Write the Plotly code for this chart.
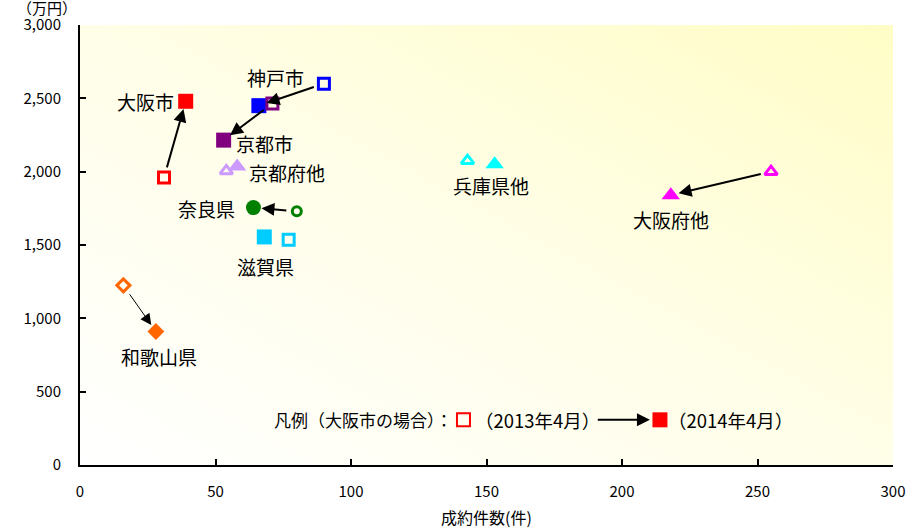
import base64
import plotly.graph_objects as go

# Areas, with contract counts (件) and price levels (万円) for Apr 2013 and Apr 2014
areas = ["大阪市", "神戸市", "京都市", "京都府他", "奈良県", "滋賀県", "和歌山県", "兵庫県他", "大阪府他"]
count_2013 = [31, 90, 71, 54, 80, 77, 16, 143, 255]
price_2013 = [1960, 2600, 2465, 2005, 1730, 1535, 1225, 2075, 2000]
count_2014 = [39, 66, 53, 58, 64, 68, 28, 153, 218]
price_2014 = [2480, 2450, 2215, 2035, 1755, 1555, 910, 2050, 1840]

colors = ["#FF0000", "#0000FF", "#800080", "#CC99FF", "#008000",
          "#00CCFF", "#FF6600", "#00FFFF", "#FF00FF"]
symbols = ["square", "square", "square", "triangle-up", "circle",
           "square", "diamond", "triangle-up", "triangle-up"]
size_new = [15, 15, 15, 16, 15, 15, 13, 16, 16]
size_old = [11, 11, 11, 11, 9, 11, 10, 11, 11]
# area labels: pixel offset from the 2014 marker, anchor
label_pos = {
    "大阪市": (-10, 0, "right"),
    "神戸市": (17, 28, "center"),
    "京都市": (10, -3, "left"),
    "京都府他": (10, -6, "left"),
    "奈良県": (-16, -1, "right"),
    "滋賀県": (1, -30, "center"),
    "和歌山県": (3, -25, "center"),
    "兵庫県他": (-4, -21, "center"),
    "大阪府他": (0, -24, "center"),
}
# arrow line width per area (0 = no arrow drawn)
arrow_width = [2, 2, 2, 0, 2, 0, 1, 0, 2]

JP = "Noto Sans CJK JP"
NUM = "Liberation Sans Narrow, Arial Narrow, " + JP

fig = go.Figure()

for i, name in enumerate(areas):
    fig.add_trace(go.Scatter(
        x=[count_2013[i]], y=[price_2013[i]], mode="markers",
        marker=dict(symbol=symbols[i] + "-open", size=size_old[i], color=colors[i],
                    line=dict(width=3, color=colors[i])),
        showlegend=False, hoverinfo="skip"))
    fig.add_trace(go.Scatter(
        x=[count_2014[i]], y=[price_2014[i]], mode="markers",
        marker=dict(symbol=symbols[i], size=size_new[i], color=colors[i],
                    line=dict(width=0)),
        showlegend=False, hoverinfo="skip"))

annotations = []
for i, name in enumerate(areas):
    if arrow_width[i] > 0:
        annotations.append(dict(
            x=count_2014[i], y=price_2014[i], ax=count_2013[i], ay=price_2013[i],
            xref="x", yref="y", axref="x", ayref="y", text="", showarrow=True,
            arrowhead=2, arrowsize=1.3 if arrow_width[i] > 1 else 2.2,
            arrowwidth=arrow_width[i], arrowcolor="black", standoff=8, startstandoff=9))
    dx, dy, anchor = label_pos[name]
    annotations.append(dict(
        x=count_2014[i], y=price_2014[i], xref="x", yref="y", text=name,
        showarrow=False, xanchor=anchor, yanchor="middle", xshift=dx, yshift=dy,
        font=dict(family=JP, size=19, color="black")))

# legend row (Osaka city example)
leg_y = 308
LEG = dict(family=JP, size=17, color="black")
LEG_DATE = dict(family=JP, size=18.5, color="black")
annotations += [
    dict(x=138.3, y=leg_y, xref="x", yref="y", text="凡例（大阪市の場合）：", showarrow=False,
         xanchor="right", yanchor="middle", font=LEG),
    dict(x=145.0, y=leg_y, xref="x", yref="y", text="（2013年4月）", showarrow=False,
         xanchor="left", yanchor="middle", font=LEG_DATE),
    dict(x=210.3, y=leg_y, ax=190.5, ay=leg_y, xref="x", yref="y", axref="x", ayref="y",
         text="", showarrow=True, arrowhead=2, arrowsize=1.3, arrowwidth=2, arrowcolor="black"),
    dict(x=216.3, y=leg_y, xref="x", yref="y", text="（2014年4月）", showarrow=False,
         xanchor="left", yanchor="middle", font=LEG_DATE),
    dict(x=0, y=1, xref="paper", yref="paper", text="（万円）", showarrow=False,
         xanchor="center", yanchor="middle", xshift=-33, yshift=18,
         font=dict(family=JP, size=15, color="black")),
    dict(x=0.6125, y=1, xref="paper", yref="paper",
         text="エリア別の件数・価格水準の変化（2013年4月→2014年4月）", showarrow=False,
         xanchor="center", yanchor="bottom", yshift=19,
         font=dict(family=JP, size=20, color="black")),
    dict(x=0.5, y=0, xref="paper", yref="paper", text="成約件数(件)", showarrow=False,
         xanchor="center", yanchor="middle", yshift=-52,
         font=dict(family=JP, size=16, color="black")),
]

shapes = [
    dict(type="rect", xref="x", yref="y", xsizemode="pixel", ysizemode="pixel",
         xanchor=141.5, yanchor=leg_y, x0=-6.5, x1=6.5, y0=-6.5, y1=6.5,
         line=dict(color="#FF0000", width=2), fillcolor="rgba(0,0,0,0)"),
    dict(type="rect", xref="x", yref="y", xsizemode="pixel", ysizemode="pixel",
         xanchor=214.0, yanchor=leg_y, x0=-7.5, x1=7.5, y0=-7.5, y1=7.5,
         line=dict(width=0), fillcolor="#FF0000"),
]

# soft diagonal gradient for the plotting area
svg = ('<svg xmlns="http://www.w3.org/2000/svg" width="100" height="100" preserveAspectRatio="none">'
       '<defs><linearGradient id="g" x1="0" y1="1" x2="1" y2="0">'
       '<stop offset="0" stop-color="#FFFFFF"/><stop offset="0.5" stop-color="#FFFEE8"/>'
       '<stop offset="1" stop-color="#FFFDC6"/></linearGradient></defs>'
       '<rect width="100" height="100" fill="url(#g)"/></svg>')
bg = "data:image/svg+xml;base64," + base64.b64encode(svg.encode()).decode()

fig.update_layout(
    width=912, height=528,
    margin=dict(l=80, r=19, t=25, b=63),
    paper_bgcolor="white", plot_bgcolor="rgba(0,0,0,0)",
    annotations=annotations, shapes=shapes,
    images=[dict(source=bg, xref="paper", yref="paper", x=0, y=1, sizex=1, sizey=1,
                 sizing="stretch", layer="below", xanchor="left", yanchor="top")],
    xaxis=dict(range=[0, 300], tickvals=[0, 50, 100, 150, 200, 250, 300], automargin=False,
               showgrid=False, zeroline=False, showline=True, linecolor="black", linewidth=2,
               ticks="inside", ticklen=6, tickwidth=2, tickcolor="black",
               ticklabelstandoff=12, tickfont=dict(family=NUM, size=15, color="black")),
    yaxis=dict(range=[0, 3000], tickvals=[0, 500, 1000, 1500, 2000, 2500, 3000], automargin=False,
               tickformat=",", showgrid=False, zeroline=False, showline=True,
               linecolor="black", linewidth=2, ticks="inside", ticklen=6, tickwidth=2,
               tickcolor="black", ticklabelstandoff=14,
               tickfont=dict(family=NUM, size=15, color="black")),
)

fig.write_html("out.html")
